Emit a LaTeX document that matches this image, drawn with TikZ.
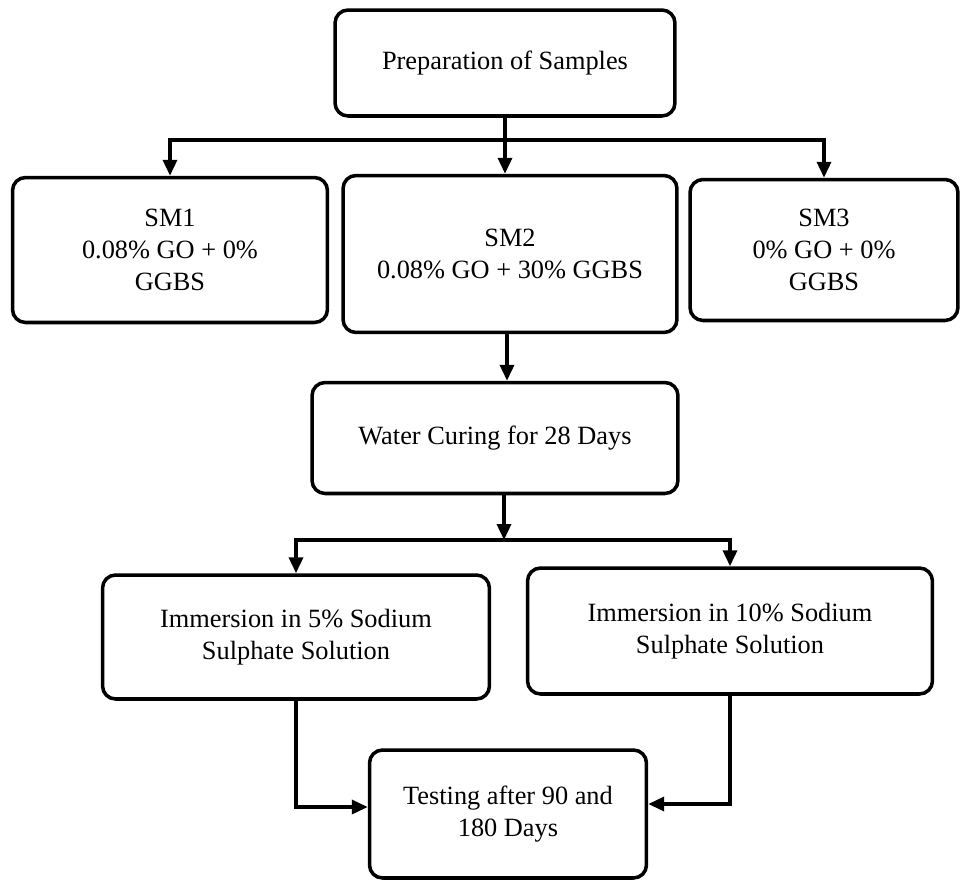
\documentclass[tikz,border=0pt]{standalone}
\usepackage{fontspec}
\setmainfont{Liberation Serif}
\usetikzlibrary{arrows.meta}

\begin{document}
\begin{tikzpicture}[>={Triangle[length=0.32cm,width=0.28cm]}, x=0.02cm, y=-0.02cm,
    box/.style={draw, line width=2pt, rounded corners=0.26cm, align=center,
      inner sep=0pt, font=\fontsize{15pt}{18.2pt}\selectfont},
    link/.style={line width=2pt}]
      \useasboundingbox (0,0) rectangle (961,880);

      % Boxes
      \node[box, minimum width=6.8cm, minimum height=2.12cm] (prep) at (505,63) {Preparation of Samples};
      \node[box, minimum width=6.3cm, minimum height=2.9cm] (sm1) at (170,250) {SM1\\0.08\% GO + 0\%\\GGBS};
      \node[box, minimum width=6.68cm, minimum height=3.14cm] (sm2) at (510,254) {SM2\\0.08\% GO + 30\% GGBS};
      \node[box, minimum width=5.36cm, minimum height=2.82cm] (sm3) at (824,250) {SM3\\0\% GO + 0\%\\GGBS};
      \node[box, minimum width=7.32cm, minimum height=2.22cm] (water) at (495,438) {Water Curing for 28 Days};
      \node[box, minimum width=7.74cm, minimum height=2.48cm] (imm5) at (296,637) {Immersion in 5\% Sodium\\Sulphate Solution};
      \node[box, minimum width=8.1cm, minimum height=2.52cm] (imm10) at (730,631) {Immersion in 10\% Sodium\\Sulphate Solution};
      \node[box, minimum width=5.54cm, minimum height=2.56cm] (test) at (508,814) {Testing after 90 and\\180 Days};

      % Split points
      \coordinate (split1) at (505,140);
      \coordinate (split2) at (504,540);

      % Connectors
      \draw[link, ->] (prep.south -| split1) -- (split1 |- sm2.north);
      \draw[link, ->] (split1) -| (sm1.north);
      \draw[link, ->] (split1) -| (sm3.north);
      \draw[link, ->] (sm2.south -| 507,0) -- (water.north -| 507,0);
      \draw[link, ->] (water.south -| split2) -- (split2);
      \draw[link, ->] (split2) -| (imm5.north);
      \draw[link, ->] (split2) -| (imm10.north);
      \draw[link, ->] (imm5.south) |- ([yshift=0.14cm]test.west);
      \draw[link, ->] (imm10.south) |- ([yshift=0.2cm]test.east);
    \end{tikzpicture}
\end{document}
